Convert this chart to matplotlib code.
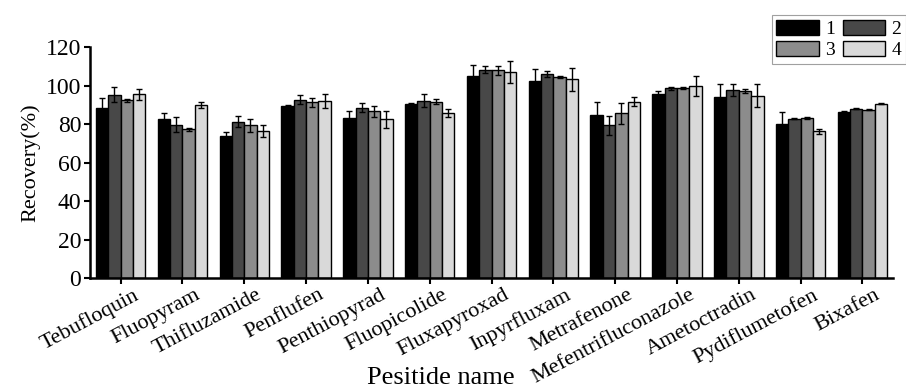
import numpy as np
import matplotlib.pyplot as plt
from matplotlib.transforms import ScaledTranslation

plt.rcParams['font.family'] = ['Liberation Serif', 'DejaVu Serif']

pesticides = ['Tebufloquin', 'Fluopyram', 'Thifluzamide', 'Penflufen', 'Penthiopyrad',
              'Fluopicolide', 'Fluxapyroxad', 'Inpyrfluxam', 'Metrafenone',
              'Mefentrifluconazole', 'Ametoctradin', 'Pydiflumetofen', 'Bixafen']
series = ['1', '2', '3', '4']

rec1 = [88.3, 82.6, 74.0, 89.6, 83.2, 90.2, 105.0, 102.5, 84.9, 95.6, 94.0, 80.1, 86.5]
rec2 = [95.3, 79.7, 81.3, 92.7, 88.5, 92.2, 108.2, 106.0, 79.4, 98.5, 97.5, 82.8, 88.0]
rec3 = [92.3, 77.3, 79.4, 91.3, 86.6, 91.6, 107.9, 104.3, 85.7, 98.7, 97.0, 83.3, 87.5]
rec4 = [95.4, 89.9, 76.4, 92.0, 82.5, 85.6, 107.0, 103.2, 91.6, 99.9, 94.8, 76.2, 90.6]

sd1 = [5.0, 3.0, 2.0, 0.5, 3.6, 0.5, 5.5, 6.0, 6.5, 1.7, 6.8, 6.0, 0.5]
sd2 = [4.0, 4.0, 3.0, 2.3, 2.4, 3.2, 1.8, 1.7, 5.0, 0.8, 3.1, 0.3, 0.4]
sd3 = [0.7, 0.7, 3.5, 2.5, 2.8, 1.2, 2.2, 0.5, 5.5, 0.5, 1.0, 0.5, 0.4]
sd4 = [3.0, 1.5, 3.0, 3.6, 4.5, 2.0, 5.6, 5.9, 2.4, 5.2, 6.0, 1.3, 0.3]

colors = ['#000000', '#484848', '#8c8c8c', '#d9d9d9']

fig = plt.figure(figsize=(9.06, 3.89), dpi=100)
ax = fig.add_axes([0.099, 0.285, 0.887, 0.594])

x = np.arange(len(pesticides))
w = 0.2
bars = []
for i, (vals, errs) in enumerate(zip([rec1, rec2, rec3, rec4], [sd1, sd2, sd3, sd4])):
    b = ax.bar(x + (i - 1.5) * w, vals, w, color=colors[i], edgecolor='black',
               linewidth=1.0, label=series[i],
               yerr=errs, error_kw=dict(ecolor='black', elinewidth=1.0, capsize=2.5, capthick=1.0))
    bars.append(b)

ax.set_xlim(-0.5, len(pesticides) - 0.5)
ax.set_ylim(0, 120)
ax.set_yticks(np.arange(0, 121, 20))
ax.set_xticks(x)
ax.set_xticklabels([])

# slanted names, nudged a little right of their ticks
shift = ScaledTranslation(0.12, -0.07, fig.dpi_scale_trans)
for xi, name in zip(x, pesticides):
    ax.text(xi, 0, name, transform=ax.get_xaxis_transform() + shift,
            rotation=28, ha='right', va='top', rotation_mode='anchor', fontsize=16)

ax.tick_params(axis='y', labelsize=17, width=1.5, length=4, pad=2)
ax.tick_params(axis='x', width=1.5, length=4, pad=3)
ax.set_ylabel('Recovery(%)', fontsize=16, labelpad=4)
ax.set_xlabel('Pesitide name', fontsize=19, va='baseline')
ax.xaxis.set_label_coords(0.437, -0.46)

for s in ['top', 'right']:
    ax.spines[s].set_visible(False)
for s in ['left', 'bottom']:
    ax.spines[s].set_linewidth(1.8)

# legend fills by column, so reorder to get 1 2 / 3 4 rows
order = [0, 2, 1, 3]
leg = fig.legend([bars[k] for k in order], [series[k] for k in order],
                 loc='upper right', bbox_to_anchor=(1.0, 0.962), borderaxespad=0,
                 ncol=2, fontsize=14, handlelength=2.2, handleheight=0.8,
                 handletextpad=0.3, columnspacing=0.4, labelspacing=0.15,
                 borderpad=0.25, frameon=True, fancybox=False)
leg.get_frame().set_edgecolor('#888888')
leg.get_frame().set_linewidth(0.8)

fig.savefig('out.png', dpi=100)
